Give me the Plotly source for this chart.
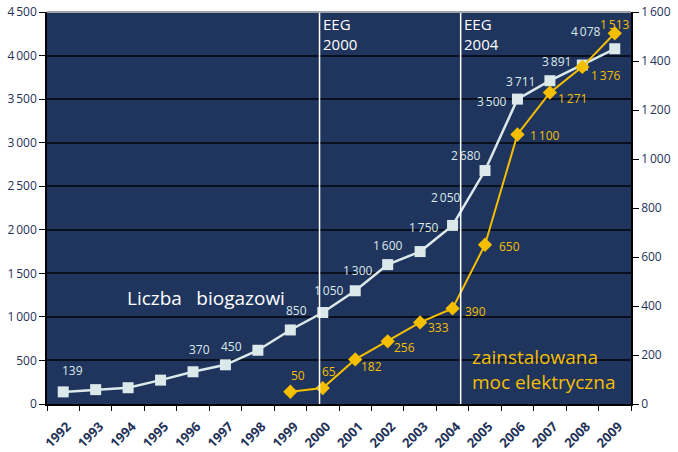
import plotly.graph_objects as go

years = ["1992", "1993", "1994", "1995", "1996", "1997", "1998", "1999", "2000",
         "2001", "2002", "2003", "2004", "2005", "2006", "2007", "2008", "2009"]
plants = [139, 165, 187, 274, 370, 450, 617, 850, 1050, 1300, 1600, 1750,
          2050, 2680, 3500, 3711, 3891, 4078]
plant_labels = ["139", "", "", "", "370", "450", "", "850", "1\u2009050", "1\u2009300",
                "1\u2009600", "1\u2009750", "2\u2009050", "2\u2009680", "3\u2009500",
                "3\u2009711", "3\u2009891", "4\u2009078"]

power_years = ["1999", "2000", "2001", "2002", "2003", "2004", "2005", "2006",
               "2007", "2008", "2009"]
power = [50, 65, 182, 256, 333, 390, 650, 1100, 1271, 1376, 1513]
power_labels = ["50", "65", "182", "256", "333", "390", "650", "1\u2009100",
                "1\u2009271", "1\u2009376", "1\u2009513"]

# label pixel offsets (styling)
plant_off = [(9, -21), (0, 0), (0, 0), (0, 0), (6, -22), (6, -18), (0, 0), (6, -19),
             (6, -22), (3, -20), (0, -19), (4, -24), (-7, -28), (-19, -15),
             (-25, 2), (-29, 1), (-26, -4), (-29, -17)]
power_off = [(8, -16), (6, -17), (16, 7), (17, 6), (18, 5), (23, 3), (24, 2),
             (28, 1), (23, 6), (24, 9), (0, -9)]

NAVY = "#1f355d"
WHITE_S = "#dce9ea"
YELLOW = "#f5bf00"
TICK = "#1f3258"
FONT = "Open Sans"

fig = go.Figure()
fig.add_trace(go.Scatter(
    x=years, y=plants, mode="lines+markers",
    line=dict(color=WHITE_S, width=2.5),
    marker=dict(symbol="square", size=11, color=WHITE_S),
    yaxis="y", showlegend=False, hoverinfo="skip"))
fig.add_trace(go.Scatter(
    x=power_years, y=power, mode="lines+markers",
    line=dict(color=YELLOW, width=2),
    marker=dict(symbol="diamond", size=11, color=YELLOW),
    yaxis="y2", showlegend=False, hoverinfo="skip"))

ann = []
for xv, yv, t, (dx, dy) in zip(years, plants, plant_labels, plant_off):
    if t:
        ann.append(dict(x=years.index(xv), y=yv, xref="x", yref="y", text=t,
                        showarrow=False, xshift=dx, yshift=-dy,
                        font=dict(family=FONT, size=12, color=WHITE_S)))
for xv, yv, t, (dx, dy) in zip(power_years, power, power_labels, power_off):
    ann.append(dict(x=years.index(xv), y=yv, xref="x", yref="y2", text=t,
                    showarrow=False, xshift=dx, yshift=-dy,
                    font=dict(family=FONT, size=12, color=YELLOW)))

ann += [
    dict(x=7.95, y=1, xref="x", yref="paper", xanchor="left", yanchor="top",
         text="EEG<br>2000", showarrow=False, align="left", yshift=0,
         font=dict(family=FONT, size=15, color="white")),
    dict(x=12.3, y=1, xref="x", yref="paper", xanchor="left", yanchor="top",
         text="EEG<br>2004", showarrow=False, align="left", yshift=0,
         font=dict(family=FONT, size=15, color="white")),
    dict(x=1.9, y=1220, xref="x", yref="y", xanchor="left", yanchor="middle",
         text="Liczba\u2002 biogazowi", showarrow=False,
         font=dict(family=FONT, size=19, color="white")),
    dict(x=12.55, y=0, xref="x", yref="paper", xanchor="left", yanchor="bottom",
         text="zainstalowana<br>moc elektryczna", showarrow=False, align="left",
         yshift=7, font=dict(family=FONT, size=19, color=YELLOW)),
]

shapes = [
    dict(type="line", x0=7.9, x1=7.9, y0=0, y1=1, xref="x", yref="paper",
         line=dict(color="white", width=1.5)),
    dict(type="line", x0=12.25, x1=12.25, y0=0, y1=1, xref="x", yref="paper",
         line=dict(color="white", width=1.5)),
    dict(type="line", x0=0, x1=1, y0=1, y1=1, xref="paper", yref="paper",
         line=dict(color="#a0a4ab", width=2)),
]

fig.update_layout(
    width=678, height=452,
    margin=dict(l=47, r=47, t=12, b=48),
    paper_bgcolor="white", plot_bgcolor=NAVY,
    separators=".\u2009",
    font=dict(family=FONT, size=12, color=TICK),
    annotations=ann, shapes=shapes,
    xaxis=dict(type="category", categoryorder="array", categoryarray=years,
               range=[-0.5, 17.5], tickangle=-45, tickson="boundaries",
               ticks="outside", ticklen=5, tickcolor="black", automargin=False,
               ticklabelstandoff=8, ticklabelshift=4,
               showline=True, linecolor="black", linewidth=1.5,
               showgrid=False, tickfont=dict(family=FONT, size=13, color=TICK,
                                             weight="bold")),
    yaxis=dict(range=[0, 4500], dtick=500, tickformat=",d", ticks="outside",
               ticklen=6, tickcolor="black", showline=True, linecolor="black",
               linewidth=1.5, showgrid=True, gridcolor="#08101f", gridwidth=1.5,
               zeroline=False, automargin=False,
               tickfont=dict(family=FONT, size=12, color=TICK)),
    yaxis2=dict(range=[0, 1600], dtick=200, tickformat=",d", overlaying="y",
                side="right", ticks="outside", ticklen=6, tickcolor="black",
                showline=True, linecolor="black", linewidth=1.5, showgrid=False,
                zeroline=False, automargin=False,
                tickfont=dict(family=FONT, size=12, color=TICK)),
)

fig.write_html("out.html")
